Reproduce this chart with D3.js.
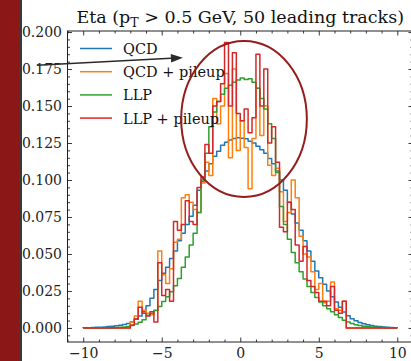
<!DOCTYPE html>
<html><head><meta charset="utf-8">
<script src="https://cdn.jsdelivr.net/npm/d3@7"></script>
<style>html,body{margin:0;padding:0;background:#fff;} svg{display:block;}</style>
</head><body>
<svg id="chart" width="411" height="361"></svg>
<script>
// ---------------- data ----------------
const binStart = -10, binWidth = 0.25, nBins = 80;
const seriesNames = ["QCD", "QCD + pileup", "LLP", "LLP + pileup"];
const seriesColors = ["#1f77b4", "#ff7f0e", "#2ca02c", "#d62728"];

const qcd = [
  0.0001,0.0002,0.0003,0.0004,0.0005,0.0007,0.0009,0.0011,0.0014,0.0018,
  0.0023,0.0030,0.0042,0.0058,0.0080,0.0110,0.0150,0.0200,0.0260,0.0320,
  0.0370,0.0410,0.0470,0.0520,0.0590,0.0640,0.0700,0.0755,0.0830,0.0930,
  0.0990,0.1060,0.1110,0.1160,0.1195,0.1235,0.1255,0.1270,0.1280,0.1285,
  0.1282,0.1278,0.1262,0.1250,0.1228,0.1205,0.1180,0.1145,0.1110,0.1060,
  0.1000,0.0930,0.0850,0.0770,0.0710,0.0660,0.0590,0.0520,0.0450,0.0385,
  0.0340,0.0295,0.0250,0.0210,0.0175,0.0140,0.0108,0.0082,0.0062,0.0048,
  0.0037,0.0028,0.0021,0.0016,0.0012,0.0009,0.0007,0.0005,0.0003,0.0002
];
const qcdPileup = [
  0,0,0,0,0,0,0,0,0,0,
  0,0,0.004,0.008,0.018,0.012,0.010,0.009,0.012,0.052,
  0.036,0.030,0.040,0.058,0.060,0.088,0.090,0.085,0.080,0.078,
  0.098,0.112,0.103,0.155,0.138,0.150,0.172,0.115,0.175,0.120,
  0.140,0.122,0.094,0.128,0.162,0.130,0.150,0.110,0.103,0.108,
  0.092,0.072,0.078,0.100,0.088,0.062,0.050,0.048,0.038,0.026,
  0.030,0.017,0.018,0.031,0.013,0.012,0.018,0,0,0,
  0,0,0,0,0,0,0,0,0,0
];
const llp = [
  0.0001,0.0001,0.0001,0.0001,0.0002,0.0002,0.0002,0.0002,0.0003,0.0004,
  0.0006,0.0009,0.0016,0.0026,0.0038,0.0055,0.0085,0.0100,0.0118,0.0145,
  0.0178,0.0210,0.0245,0.0285,0.0335,0.0410,0.0480,0.0560,0.0640,0.0780,
  0.1000,0.1180,0.1360,0.1460,0.1530,0.1580,0.1620,0.1640,0.1660,0.1675,
  0.1690,0.1680,0.1685,0.1660,0.1620,0.1550,0.1480,0.1380,0.1280,0.1050,
  0.0820,0.0700,0.0600,0.0510,0.0440,0.0380,0.0330,0.0280,0.0240,0.0205,
  0.0175,0.0150,0.0130,0.0110,0.0090,0.0070,0.0052,0.0040,0.0030,0.0022,
  0.0016,0.0012,0.0009,0.0007,0.0005,0.0004,0.0003,0.0002,0.0002,0.0001
];
const llpPileup = [
  0,0,0,0,0,0,0,0,0,0,
  0,0,0.002,0.006,0.014,0.010,0.008,0.011,0.004,0.044,
  0.022,0.026,0.018,0.072,0.066,0.070,0.086,0.072,0.070,0.095,
  0.102,0.124,0.118,0.150,0.153,0.165,0.193,0.150,0.186,0.145,
  0.140,0.148,0.132,0.142,0.185,0.150,0.175,0.125,0.136,0.112,
  0.068,0.065,0.085,0.080,0.056,0.045,0.055,0.032,0.028,0.024,
  0.018,0.018,0.015,0.028,0.012,0.010,0.018,0,0,0,
  0,0,0,0,0,0,0,0,0,0
];
const seriesValues = [qcd, qcdPileup, llp, llpPileup];

const xTicks = [-10, -5, 0, 5, 10];
const xMinorTicks = [-11,-9,-8,-7,-6,-4,-3,-2,-1,1,2,3,4,6,7,8,9,11];
const yTicks = [0, 0.025, 0.05, 0.075, 0.1, 0.125, 0.15, 0.175, 0.2];
const yMinorTicks = d3.range(-0.005, 0.2011, 0.005).filter(v => Math.abs(Math.round(v/0.025)*0.025 - v) > 1e-6);
const titleParts = ["Eta (p", "T", " > 0.5 GeV, 50 leading tracks)"];

// annotations, in data coordinates
const ellipseCenter = [0.24, 0.1412], ellipseRadii = [4.0, 0.0527];
const arrowFrom = [-12.95, 0.1776], arrowTo = [-3.65, 0.1827];

// ---------------- drawing ----------------
const W = 411, H = 361;
const svg = d3.select("#chart");
const FONT = "DejaVu Serif";

svg.append("rect").attr("x",0).attr("y",0).attr("width",19).attr("height",H).attr("fill","#8b1717");
svg.append("rect").attr("x",19).attr("y",0).attr("width",3).attr("height",H).attr("fill","#3a3a3a");

const P = {left:67.5, right:413, top:31, bottom:342};
const x = d3.scaleLinear().domain([-11, 11]).range([P.left, P.right]);
const y = d3.scaleLinear().domain([-0.0095, 0.2007]).range([P.bottom, P.top]);

svg.append("defs").append("clipPath").attr("id","clip")
  .append("rect").attr("x",P.left).attr("y",P.top).attr("width",P.right-P.left).attr("height",P.bottom-P.top);

const edges = d3.range(nBins+1).map(i => binStart + i*binWidth);
function stepPoints(vals){
  const pts = [[edges[0], 0]];
  vals.forEach((v,i) => { pts.push([edges[i], v]); pts.push([edges[i+1], v]); });
  pts.push([edges[nBins], 0]);
  return pts;
}
const line = d3.line().x(d => x(d[0])).y(d => y(d[1]));
const gData = svg.append("g").attr("clip-path","url(#clip)");
seriesValues.forEach((vals, i) => {
  gData.append("path").attr("d", line(stepPoints(vals)))
    .attr("fill","none").attr("stroke", seriesColors[i]).attr("stroke-width",1.5)
    .attr("stroke-linejoin","round");
});

// axes
const fmtX = d => d < 0 ? "\u2212" + Math.abs(d) : String(d);
function styleAxis(g){
  g.select(".domain").remove();
  g.selectAll("line").attr("stroke","#222").attr("stroke-width",0.9);
  g.selectAll("text").attr("font-family",FONT).attr("font-size",14).attr("fill","#222");
}
svg.append("g").attr("transform",`translate(0,${P.bottom})`)
  .call(d3.axisBottom(x).tickValues(xTicks).tickFormat(fmtX).tickSizeInner(-4.5).tickSizeOuter(0).tickPadding(6)).call(styleAxis);
svg.append("g").attr("transform",`translate(0,${P.bottom})`)
  .call(d3.axisBottom(x).tickValues(xMinorTicks).tickFormat("").tickSizeInner(-2.5).tickSizeOuter(0)).call(styleAxis);
svg.append("g").attr("transform",`translate(0,${P.top})`)
  .call(d3.axisTop(x).tickValues(xTicks).tickFormat("").tickSizeInner(-4.5).tickSizeOuter(0)).call(styleAxis);
svg.append("g").attr("transform",`translate(0,${P.top})`)
  .call(d3.axisTop(x).tickValues(xMinorTicks).tickFormat("").tickSizeInner(-2.5).tickSizeOuter(0)).call(styleAxis);
svg.append("g").attr("transform",`translate(${P.left},0)`)
  .call(d3.axisLeft(y).tickValues(yTicks).tickFormat(d3.format(".3f")).tickSizeInner(-4.5).tickSizeOuter(0).tickPadding(5.5)).call(styleAxis);
svg.append("g").attr("transform",`translate(${P.left},0)`)
  .call(d3.axisLeft(y).tickValues(yMinorTicks).tickFormat("").tickSizeInner(-2.5).tickSizeOuter(0)).call(styleAxis);
svg.append("g").attr("transform",`translate(${P.right},0)`)
  .call(d3.axisRight(y).tickValues(yTicks).tickFormat("").tickSizeInner(-4.5).tickSizeOuter(0)).call(styleAxis);
svg.append("g").attr("transform",`translate(${P.right},0)`)
  .call(d3.axisRight(y).tickValues(yMinorTicks).tickFormat("").tickSizeInner(-2.5).tickSizeOuter(0)).call(styleAxis);

svg.append("rect").attr("x",P.left).attr("y",P.top).attr("width",P.right-P.left).attr("height",P.bottom-P.top)
  .attr("fill","none").attr("stroke","#222").attr("stroke-width",1);

// title
const title = svg.append("text").attr("x",(P.left+P.right)/2).attr("y",23.3)
  .attr("text-anchor","middle").attr("font-family",FONT).attr("font-size",17.5).attr("fill","#111");
title.append("tspan").text(titleParts[0]);
title.append("tspan").attr("dy",3.5).attr("font-size",12.5).text(titleParts[1]);
title.append("tspan").attr("dy",-3.5).text(titleParts[2]);

// legend
const leg = svg.append("g");
seriesNames.forEach((name,i) => {
  const ly = 48.5 + 23.2*i;
  leg.append("line").attr("x1",80).attr("x2",112).attr("y1",ly).attr("y2",ly)
    .attr("stroke",seriesColors[i]).attr("stroke-width",1.5);
  leg.append("text").attr("x",123).attr("y",ly+5.5).attr("font-family",FONT).attr("font-size",14.5)
    .attr("fill","#111").text(name);
});

// ellipse annotation
svg.append("ellipse").attr("cx",x(ellipseCenter[0])).attr("cy",y(ellipseCenter[1]))
  .attr("rx",x(ellipseRadii[0])-x(0)).attr("ry",y(0)-y(ellipseRadii[1]))
  .attr("fill","none").attr("stroke","#961c1c").attr("stroke-width",2);

// arrow annotation
const ax0 = x(arrowFrom[0]), ay0 = y(arrowFrom[1]), ax1 = x(arrowTo[0]), ay1 = y(arrowTo[1]);
const len = Math.hypot(ax1-ax0, ay1-ay0), ux = (ax1-ax0)/len, uy = (ay1-ay0)/len;
const hl = 12, hw = 4.2;
const bx = ax1 - ux*hl, by = ay1 - uy*hl;
svg.append("line").attr("x1",ax0).attr("y1",ay0).attr("x2",bx).attr("y2",by)
  .attr("stroke","#2a2a2a").attr("stroke-width",1.6);
svg.append("path").attr("d",`M${ax1},${ay1}L${bx - uy*hw},${by + ux*hw}L${bx + uy*hw},${by - ux*hw}Z`)
  .attr("fill","#2a2a2a");
</script>
</body></html>
